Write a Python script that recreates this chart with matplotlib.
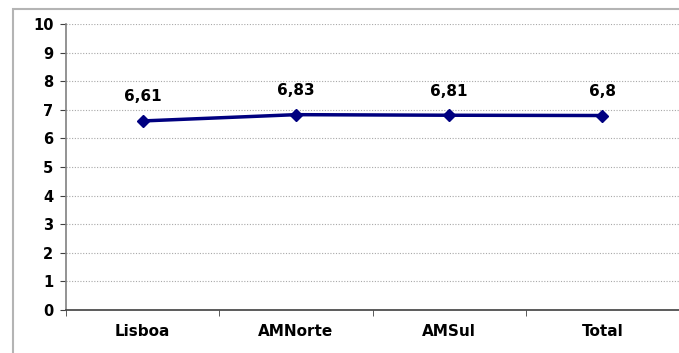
import matplotlib.pyplot as plt
from matplotlib.patches import Rectangle

regioes = ["Lisboa", "AMNorte", "AMSul", "Total"]
medias = [6.61, 6.83, 6.81, 6.8]
rotulos = ["6,61", "6,83", "6,81", "6,8"]

fig = plt.figure(figsize=(6.79, 3.53), dpi=100)
ax = fig.add_axes([66 / 679, 43 / 353, 613 / 679, 286 / 353])

# moldura exterior do gráfico
fig.patches.append(Rectangle((13 / 679, -0.1), 1.2, 1.1 - 9 / 353,
                             transform=fig.transFigure, fill=False,
                             edgecolor="#b4b4b4", linewidth=1.5))

x = range(len(regioes))
ax.plot(x, medias, color="#000080", linewidth=2.5, marker="D", markersize=6)

for xi, v, r in zip(x, medias, rotulos):
    ax.annotate(r, (xi, v), xytext=(0, 12), textcoords="offset points",
                ha="center", va="bottom", fontsize=11, fontweight="bold")

ax.set_xlim(-0.5, len(regioes) - 0.5)
ax.set_ylim(0, 10)
ax.set_yticks(range(0, 11))
ax.set_xticks(x)
ax.set_xticklabels(regioes, fontsize=11, fontweight="bold")
ax.set_xticks([i - 0.5 for i in range(len(regioes) + 1)], minor=True)
ax.tick_params(axis="x", which="major", length=0, pad=10)
ax.tick_params(axis="x", which="minor", length=4, color="#404040")
ax.tick_params(axis="y", length=4, color="#404040", pad=5)
for lab in ax.get_yticklabels():
    lab.set_fontsize(10.5)
    lab.set_fontweight("bold")

for yv in range(1, 11):
    ax.axhline(yv, color="#a8a8a8", linewidth=0.8, linestyle=(0, (1, 1.5)), zorder=0)

ax.spines["top"].set_visible(False)
ax.spines["right"].set_visible(False)
ax.spines["left"].set_color("#808080")
ax.spines["left"].set_linewidth(1.2)
ax.spines["bottom"].set_color("#404040")
ax.spines["bottom"].set_linewidth(1.2)

fig.savefig("out.png", dpi=100)
